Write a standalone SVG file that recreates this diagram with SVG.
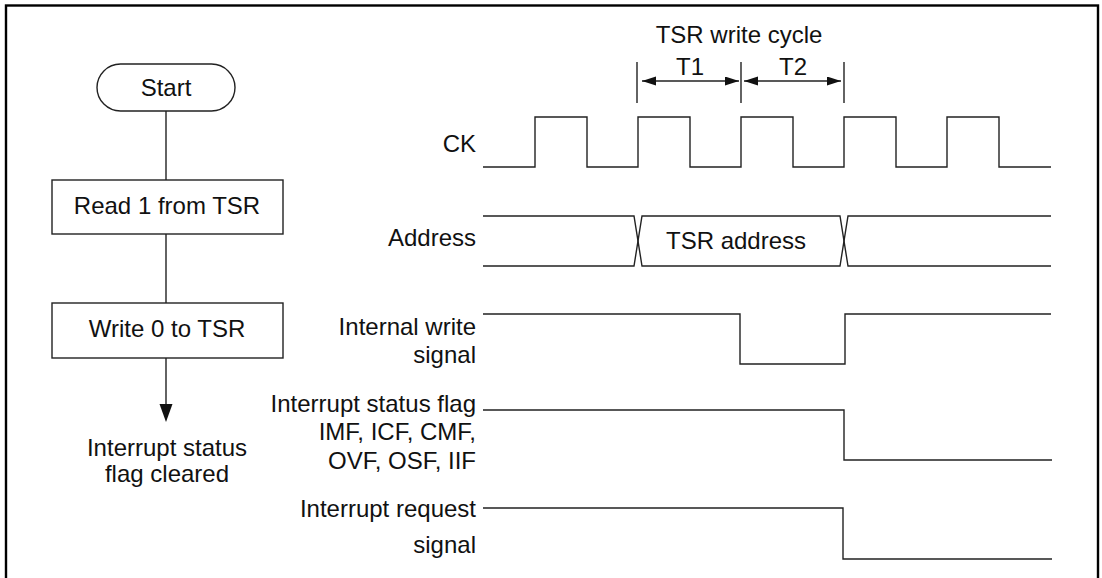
<svg xmlns="http://www.w3.org/2000/svg" width="1102" height="578" viewBox="0 0 1102 578">
<style>
text{font-family:"Liberation Sans",Arial,sans-serif;font-size:24px;fill:#111}
.m{text-anchor:middle}
.e{text-anchor:end}
.ln{fill:none;stroke:#222;stroke-width:1.4}
.box{fill:#fff;stroke:#222;stroke-width:1.4}
</style>
<defs>
<marker id="ah" markerUnits="userSpaceOnUse" markerWidth="14" markerHeight="10" refX="14" refY="4.5" orient="auto-start-reverse">
<path d="M0,0 L14,4.5 L0,9 Z" fill="#111"/>
</marker>
</defs>
<rect x="6" y="5.5" width="1092" height="580" fill="#fff" stroke="#000" stroke-width="2.4"/>
<g id="connectors">
<line class="ln" x1="166" y1="111" x2="166" y2="180"/>
<line class="ln" x1="166" y1="234" x2="166" y2="303"/>
<line class="ln" x1="166" y1="358" x2="166" y2="405"/>
<polygon points="159.5,404 172.5,404 166,422" fill="#111"/>
</g>
<g id="start"><rect class="box" x="97" y="64" width="138" height="47" rx="23.5"/><text class="m" x="166" y="96">Start</text></g>
<g id="read"><rect class="box" x="52" y="180" width="231" height="54"/><text class="m" x="167" y="214">Read 1 from TSR</text></g>
<g id="write"><rect class="box" x="52" y="303" width="231" height="55"/><text class="m" x="167" y="337">Write 0 to TSR</text></g>
<g id="cleared"><text class="m" x="167" y="456">Interrupt status</text><text class="m" x="167" y="482">flag cleared</text></g>
<g id="cycle">
<text class="m" x="739" y="43">TSR write cycle</text>
<line class="ln" x1="637" y1="62" x2="637" y2="103"/>
<line class="ln" x1="741" y1="62" x2="741" y2="103"/>
<line class="ln" x1="844" y1="62" x2="844" y2="103"/>
<line class="ln" x1="642" y1="81" x2="739" y2="81" marker-start="url(#ah)" marker-end="url(#ah)"/>
<line class="ln" x1="744" y1="81" x2="841" y2="81" marker-start="url(#ah)" marker-end="url(#ah)"/>
<text class="m" x="690" y="75">T1</text>
<text class="m" x="793" y="75">T2</text>
</g>
<g id="ck">
<text class="e" x="476" y="152">CK</text>
<path class="ln" d="M483,167 H535 V117 H587 V167 H638 V117 H690 V167 H741 V117 H793 V167 H844 V117 H896 V167 H947 V117 H999 V167 H1051"/>
</g>
<g id="address">
<text class="e" x="476" y="246">Address</text>
<path class="ln" d="M483,216 H634 L642,266 H840 L848,216 H1051"/>
<path class="ln" d="M483,266 H634 L642,216 H840 L848,266 H1051"/>
<text class="m" x="736" y="249">TSR address</text>
</g>
<g id="internal-write">
<text class="e" x="476" y="335">Internal write</text>
<text class="e" x="476" y="363">signal</text>
<path class="ln" d="M483,314 H740 V364 H845 V314 H1051"/>
</g>
<g id="status-flag">
<text class="e" x="476" y="412">Interrupt status flag</text>
<text class="e" x="476" y="440">IMF, ICF, CMF,</text>
<text class="e" x="476" y="469">OVF, OSF, IIF</text>
<path class="ln" d="M483,410 H844 V460 H1052"/>
</g>
<g id="request">
<text class="e" x="476" y="517">Interrupt request</text>
<text class="e" x="476" y="553">signal</text>
<path class="ln" d="M483,508 H843 V559 H1052"/>
</g>
</svg>
